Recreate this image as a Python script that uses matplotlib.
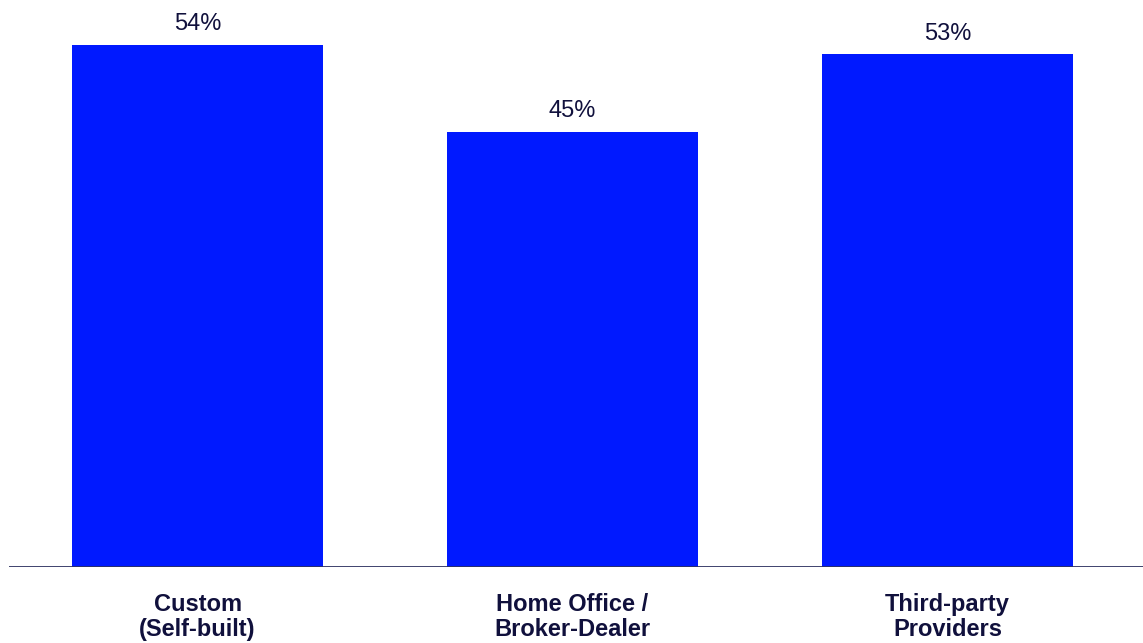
import matplotlib
matplotlib.use('Agg')
import matplotlib.pyplot as plt

categories = ['Custom\n(Self-built)', 'Home Office /\nBroker-Dealer', 'Third-party\nProviders']
values = [54, 45, 53]

bar_color = '#0019FF'
text_color = '#10103C'
line_color = '#2E3160'

plt.rcParams['font.family'] = ['Liberation Sans', 'DejaVu Sans']

fig = plt.figure(figsize=(11.43, 6.43), dpi=100)
ax = fig.add_axes([9 / 1143, 1 - 567 / 643, 1 - 9 / 1143, 567 / 643])

x = range(len(values))
bars = ax.bar(x, values, width=0.67, color=bar_color, zorder=2)
ax.axhline(0, color=line_color, linewidth=2, zorder=3)

for b, v in zip(bars, values):
    ax.text(b.get_x() + b.get_width() / 2, v + 1.0, f'{v}%',
            ha='center', va='bottom', fontsize=17, color=text_color)

for i, c in enumerate(categories):
    ax.text(i, -2.7, c, ha='center', va='top', fontsize=17,
            fontweight='bold', color=text_color, linespacing=1.12)

ax.set_xlim(-0.503, 2.521)
ax.set_ylim(0, 58.6)
ax.axis('off')

fig.savefig('out.png', dpi=100)
